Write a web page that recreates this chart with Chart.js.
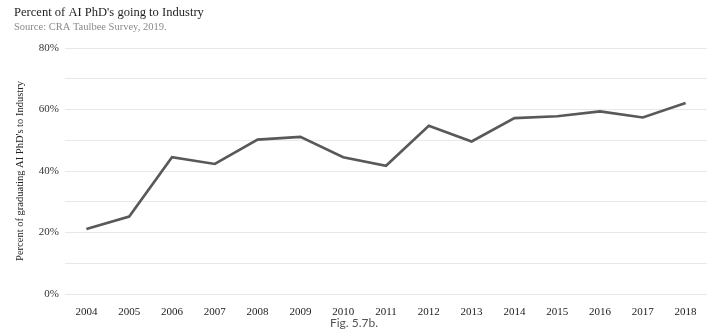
<!DOCTYPE html>
<html>
<head>
<meta charset="utf-8">
<script src="https://cdn.jsdelivr.net/npm/chart.js@4"></script>
<style>
  html, body { margin: 0; padding: 0; background: #ffffff; }
  #wrap { position: relative; width: 720px; height: 334px; }
</style>
</head>
<body>
<div id="wrap"><canvas id="chart" width="720" height="334"></canvas></div>
<script>
// Share of new AI PhDs taking industry jobs, by graduation year
const years = ['2004','2005','2006','2007','2008','2009','2010','2011','2012','2013','2014','2015','2016','2017','2018'];
const industryShare = [21.1, 25.2, 44.5, 42.3, 50.2, 51.1, 44.5, 41.7, 54.7, 49.6, 57.2, 57.8, 59.4, 57.4, 62.1];
const yTickValues = [0, 20, 40, 60, 80];

const titleText = "Percent of AI PhD's going to Industry";
const sourceText = 'Source: CRA Taulbee Survey, 2019.';
const captionText = 'Fig. 5.7b.';
const yAxisTitle = "Percent of graduating AI PhD's to Industry";

const SERIF = '"Liberation Serif", "Times New Roman", serif';

// Heading, source line and figure caption drawn onto the canvas
const headerPlugin = {
  id: 'header',
  afterDraw(chart) {
    const ctx = chart.ctx;
    ctx.save();
    ctx.textBaseline = 'alphabetic';
    ctx.textAlign = 'left';
    ctx.fillStyle = '#1e1e1e';
    ctx.font = '13.5px ' + SERIF;
    ctx.save();
    ctx.translate(14, 16);
    ctx.scale(0.93, 1);
    ctx.fillText(titleText, 0, 0);
    ctx.restore();
    ctx.fillStyle = '#8a8a8a';
    ctx.font = '10.5px ' + SERIF;
    ctx.fillText(sourceText, 14, 29.5);
    ctx.fillStyle = '#555555';
    ctx.font = '12px "Liberation Sans Narrow", Lato, sans-serif';
    ctx.textAlign = 'center';
    ctx.fillText(captionText, 354, 327);
    ctx.restore();
  }
};

new Chart(document.getElementById('chart'), {
  type: 'line',
  data: {
    labels: years,
    datasets: [{
      data: industryShare,
      borderColor: '#595959',
      borderWidth: 2.6,
      pointRadius: 0,
      tension: 0,
      fill: false
    }]
  },
  options: {
    responsive: false,
    animation: false,
    layout: { padding: { top: 48, right: 13, bottom: 0, left: 0 } },
    plugins: {
      legend: { display: false },
      tooltip: { enabled: false }
    },
    scales: {
      x: {
        offset: true,
        grid: { display: false },
        border: { display: false },
        ticks: {
          color: '#222222',
          font: { family: SERIF, size: 11 },
          padding: 4,
          maxRotation: 0,
          autoSkip: false
        },
        afterFit(scale) { scale.height = 40; }
      },
      y: {
        min: 0,
        max: 80,
        grid: { color: '#e8e8e8', lineWidth: 1, drawTicks: false },
        border: { display: false },
        ticks: {
          stepSize: 10,
          color: '#333333',
          font: { family: SERIF, size: 11 },
          padding: 6,
          callback: (v) => yTickValues.includes(v) ? v + '%' : ''
        },
        title: {
          display: true,
          text: yAxisTitle,
          color: '#222222',
          font: { family: SERIF, size: 10.5 },
          padding: { top: 14, bottom: 0 }
        },
        afterFit(scale) { scale.width = 65; }
      }
    }
  },
  plugins: [headerPlugin]
});
</script>
</body>
</html>
